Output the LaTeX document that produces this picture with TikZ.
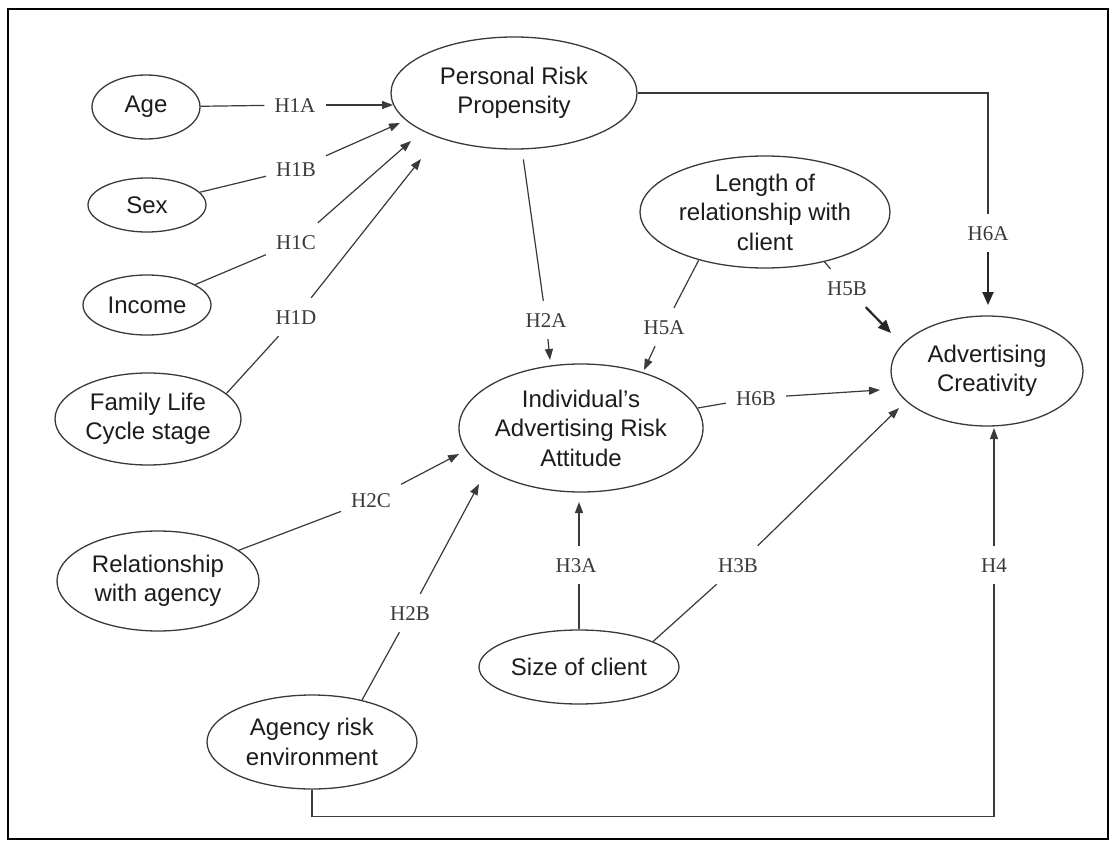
\documentclass[tikz,border=0pt]{standalone}
\usepackage{fontspec}
\setmainfont{Liberation Sans}
\newfontfamily\hypfont{Liberation Serif}
\usetikzlibrary{shapes.geometric,arrows.meta}
\definecolor{ink}{HTML}{3A3A3A}
\definecolor{txt}{HTML}{1C1C1C}
\begin{document}
\begin{tikzpicture}[x=1pt,y=-1pt,
  var/.style={ellipse, draw=ink, line width=1.3pt, inner sep=0pt, align=center,
    text=txt, font=\fontsize{24}{29.5}\selectfont},
  hyp/.style={inner xsep=10pt, inner ysep=12pt, text height=14pt, text depth=0pt,
    text=ink, font=\hypfont\fontsize{21}{25}\selectfont},
  link/.style={draw=ink, line width=1.2pt},
  arr/.style={link, -{Triangle[length=11pt,width=8pt]}},
  boldarr/.style={draw=black!85, line width=2.2pt, -{Triangle[length=13pt,width=11pt]}},
  frame/.style={draw=black, line width=2pt}]
\useasboundingbox (0,0) rectangle (1114,843);
\fill[white] (0,0) rectangle (1114,843);
\draw[frame] (8,9) rectangle (1108,839);

% constructs
\node[var, minimum width=108pt, minimum height=64pt]  (age)    at (146,107) {Age};
\node[var, minimum width=118pt, minimum height=54pt]  (sex)    at (147,205) {Sex};
\node[var, minimum width=128pt, minimum height=60pt]  (income) at (147,305) {Income};
\node[var, minimum width=186pt, minimum height=92pt]  (family) at (148,419) {Family Life\\Cycle stage};
\node[var, minimum width=202pt, minimum height=100pt] (raga)   at (158,581) {Relationship\\with agency};
\node[var, minimum width=210pt, minimum height=94pt]  (agency) at (312,742) {Agency risk\\environment};
\node[var, minimum width=246pt, minimum height=112pt] (prp)    at (514,93)  {Personal Risk\\Propensity};
\node[var, minimum width=250pt, minimum height=112pt] (lrc)    at (765,212) {Length of\\relationship with\\client};
\node[var, minimum width=244pt, minimum height=128pt] (iara)   at (581,428) {Individual's\\Advertising Risk\\Attitude};
\node[var, minimum width=200pt, minimum height=74pt]  (size)   at (579,667) {Size of client};
\node[var, minimum width=192pt, minimum height=110pt] (ac)     at (987,371) {Advertising\\Creativity};

% hypothesis labels
\node[hyp] (h1a) at (295,105) {H1A};
\node[hyp] (h1b) at (296,169) {H1B};
\node[hyp] (h1c) at (296,242) {H1C};
\node[hyp] (h1d) at (296,317) {H1D};
\node[hyp] (h2a) at (546,320) {H2A};
\node[hyp] (h2b) at (410,613) {H2B};
\node[hyp] (h2c) at (371,500) {H2C};
\node[hyp] (h3a) at (576,565) {H3A};
\node[hyp] (h3b) at (738,565) {H3B};
\node[hyp] (h4)  at (994,565) {H4};
\node[hyp] (h5a) at (664,327) {H5A};
\node[hyp] (h5b) at (847,288) {H5B};
\node[hyp] (h6a) at (988,233) {H6A};
\node[hyp] (h6b) at (756,398) {H6B};

% arrow heads
\coordinate (t1a) at (393,105);
\coordinate (t1b) at (400,123);
\coordinate (t1c) at (411,141);
\coordinate (t1d) at (421,159);
\coordinate (t2a) at (550,360);
\coordinate (t2b) at (479,484);
\coordinate (t2c) at (459,454);
\coordinate (t3a) at (579,502);
\coordinate (t3b) at (899,408);
\coordinate (t4)  at (994,428);
\coordinate (t5a) at (644,370);
\coordinate (t5b) at (891,333);
\coordinate (t6a) at (988,305);
\coordinate (t6b) at (880,390);

% H1: demographics -> personal risk propensity
\draw[link] (age) -- (h1a);    \draw[arr] (h1a) -- (t1a);
\draw[link] (sex) -- (h1b);    \draw[arr] (h1b) -- (t1b);
\draw[link] (income) -- (h1c); \draw[arr] (h1c) -- (t1c);
\draw[link] (family.18) -- (h1d); \draw[arr] (h1d) -- (t1d);

% H2: antecedents of the risk attitude
\draw[link, shorten <=10pt] (prp) -- (h2a); \draw[arr] (h2a) -- (t2a);
\draw[link] (raga) -- (h2c);      \draw[arr] (h2c) -- (t2c);
\draw[link] (agency.40) -- (h2b); \draw[arr] (h2b) -- (t2b);

% H3: size of client
\draw[link] (size.north) -- (size.north |- h3a.south);
\draw[arr] (size.north |- h3a.north) -- (t3a);
\draw[link] (size.19) -- (h3b); \draw[arr] (h3b) -- (t3b);

% H4: agency environment -> creativity
\draw[link] (agency.south) -- ++(0,27) -| (h4.south);
\draw[arr] (h4.north) -- (t4);

% H5: length of relationship
\draw[link] (lrc.216) -- (h5a); \draw[arr] (h5a) -- (t5a);
\draw[link] (lrc.-40) -- (h5b); \draw[boldarr] (h5b) -- (t5b);

% H6: risk measures -> creativity
\draw[link] (prp.east) -| (h6a.north);
\draw[boldarr] (h6a.south) -- (t6a);
\draw[link] (iara) -- (h6b); \draw[arr] (h6b) -- (t6b);
\end{tikzpicture}
\end{document}
